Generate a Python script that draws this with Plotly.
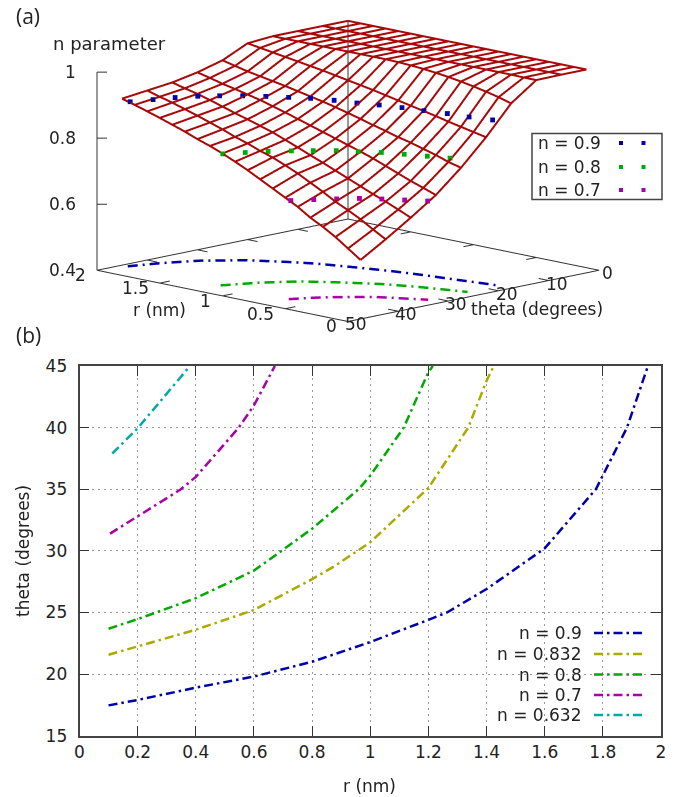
import math
import plotly.graph_objects as go

W, H = 679, 797
# ---------- panel (a) data ----------
r_grid = [0.1,0.2,0.3,0.4,0.5,0.6,0.7,0.8,0.9,1.0,1.1,1.2,1.3,1.4,1.5,1.6,1.7,1.8,1.9,2.0]
theta_grid = [0,5,10,15,20,25,30,35,40,45]
n_theta_0  = [1.0,1.0,1.0,1.0,1.0,1.0,1.0,1.0,1.0,1.0,1.0,1.0,1.0,1.0,1.0,1.0,1.0,1.0,1.0,1.0]
n_theta_5  = [1.0,1.0,1.0,1.0,1.0,1.0,1.0,1.0,1.0,1.0,1.0,1.0,1.0,1.0,1.0,1.0,1.0,1.0,1.0,1.0]
n_theta_10 = [0.999,0.999,1.0,1.0,1.0,1.0,1.0,1.0,1.0,1.0,1.0,1.0,1.0,1.0,1.0,1.0,1.0,1.0,1.0,1.0]
n_theta_15 = [0.944,0.955,0.964,0.972,0.979,0.985,0.99,0.994,0.997,0.999,1.0,1.0,1.0,1.0,1.0,1.0,1.0,1.0,1.0,1.0]
n_theta_20 = [0.857,0.865,0.873,0.881,0.89,0.898,0.906,0.914,0.922,0.93,0.937,0.944,0.951,0.958,0.964,0.97,0.976,0.982,0.988,0.994]
n_theta_25 = [0.78,0.79,0.803,0.814,0.825,0.834,0.845,0.855,0.866,0.876,0.886,0.895,0.903,0.911,0.919,0.926,0.933,0.94,0.949,0.958]
n_theta_30 = [0.713,0.727,0.74,0.755,0.77,0.785,0.798,0.81,0.822,0.834,0.846,0.858,0.87,0.881,0.892,0.901,0.91,0.918,0.928,0.937]
n_theta_35 = [0.66,0.677,0.693,0.708,0.724,0.74,0.756,0.772,0.787,0.803,0.818,0.833,0.845,0.857,0.868,0.88,0.892,0.903,0.912,0.922]
n_theta_40 = [0.61,0.632,0.655,0.675,0.693,0.715,0.735,0.755,0.772,0.788,0.80,0.815,0.827,0.842,0.855,0.868,0.88,0.892,0.902,0.913]
n_theta_45 = [0.563,0.59,0.617,0.64,0.66,0.685,0.705,0.725,0.745,0.765,0.783,0.80,0.815,0.828,0.843,0.856,0.869,0.881,0.893,0.904]
n_rows = [n_theta_0,n_theta_5,n_theta_10,n_theta_15,n_theta_20,n_theta_25,n_theta_30,n_theta_35,n_theta_40,n_theta_45]

dots09_r = [1.936,1.885,1.838,1.773,1.695,1.604,1.499,1.389,1.282,1.151,1.007,0.880,0.738,0.592,0.441,0.287,0.136]
dots09_t = [45.0,41.7,38.5,35.6,33.2,30.9,28.9,27.1,25.4,24.0,23.05,21.8,20.8,20.07,19.2,18.7,17.8]
dots08_r = [1.194,1.131,1.061,0.980,0.897,0.806,0.699,0.589,0.464,0.334,0.205]
dots08_t = [45.1,42.2,39.4,36.8,34.5,32.2,30.5,28.65,27.2,25.85,24.55]
dots07_r = [0.656,0.585,0.507,0.425,0.323,0.213,0.102]
dots07_t = [45.0,42.2,39.6,37.1,35.2,33.4,31.6]

# ---------- panel (b) data ----------
c09_r = [0.1,0.2,0.4,0.6,0.8,1.0,1.2,1.264,1.4,1.6,1.776,1.883,1.955]
c09_t = [17.46,17.9,18.9,19.8,21.0,22.6,24.4,25.0,26.9,30.2,35,40,45]
c0832_r = [0.1,0.2,0.4,0.6,0.8,0.88,1.0,1.2,1.337,1.4,1.425]
c0832_t = [21.57,22.24,23.6,25.2,27.7,28.8,30.7,35.1,40,43.8,45]
c08_r = [0.1,0.2,0.4,0.6,0.695,0.8,0.96,1.0,1.115,1.2,1.215]
c08_t = [23.68,24.46,26.16,28.4,30,31.8,35,36.1,40,44.5,45]
c07_r = [0.105,0.2,0.346,0.4,0.46,0.546,0.6,0.672]
c07_t = [31.4,32.8,34.95,36.0,37.6,39.95,41.8,45]
c0632_r = [0.113,0.2,0.38]
c0632_t = [37.9,39.95,45]

# ticks
r_ticks = [0,0.5,1,1.5,2]
r_labels = ["0","0.5","1","1.5","2"]
theta_ticks = [0,10,20,30,40,50]
theta_labels = ["0","10","20","30","40","50"]
n_ticks = [0.4,0.6,0.8,1.0]
n_labels = ["0.4","0.6","0.8","1"]

BLUE, OLIVE, GREEN, MAG, CYAN = "#0000aa", "#aaaa00", "#00aa00", "#aa00aa", "#00aaaa"
RED = "#a80808"
AX = "#333333"
FONT = "DejaVu Sans"
FS = 17
DASH = "9px,4px,2.5px,4px"

def px(x): return x / W
def py(y): return 1 - y / H

fig = go.Figure()

def line3(x, y, z, color=AX, width=1.5, dash=None):
    ln = dict(color=color, width=width)
    if dash: ln["dash"] = dash
    fig.add_trace(go.Scatter3d(x=x, y=y, z=z, mode="lines", line=ln, showlegend=False, hoverinfo="skip",
                               connectgaps=False))

def dash_pieces(rs, ts):
    """Cut a base-plane polyline into the dash-dot pattern, measured in on-screen pixels."""
    pattern = [(10, True), (5, False), (2, True), (5, False)]
    out_r, out_t = [rs[0]], [ts[0]]
    idx, left = 0, pattern[0][0]
    for i in range(len(rs) - 1):
        r0, t0, r1, t1 = rs[i], ts[i], rs[i+1], ts[i+1]
        seg = math.hypot(125*(r1-r0) + 5.04*(t1-t0), 25.5*(r1-r0) - (t1-t0))
        done = 0.0
        while seg - done > left:
            done += left
            f = done / seg
            rr, tt = r0 + f*(r1-r0), t0 + f*(t1-t0)
            if pattern[idx][1]:
                out_r += [rr, None]; out_t += [tt, None]
            else:
                out_r.append(rr); out_t.append(tt)
            idx = (idx + 1) % len(pattern)
            left = pattern[idx][0]
        left -= seg - done
        if pattern[idx][1]:
            out_r.append(r1); out_t.append(t1)
    return out_r, out_t

# surface mesh
for t, row in zip(theta_grid, n_rows):
    line3(r_grid, [t]*len(r_grid), row, RED, 4)
for i, r in enumerate(r_grid):
    line3([r]*len(theta_grid), theta_grid, [row[i] for row in n_rows], RED, 4)

# base box
line3([2,0,0,2,2],[50,50,0,0,50],[0.4]*5, width=2)
line3([2,2],[50,50],[0.4,1.0], width=2)
line3([2,2],[0,0],[0.4,1.0], width=2)
for r in r_ticks[1:-1]:
    line3([r,r],[50,48],[0.4,0.4], width=2)
    line3([r,r],[0,2],[0.4,0.4], width=2)
for t in theta_ticks[1:-1]:
    line3([0,0.08],[t,t],[0.4,0.4], width=2)
    line3([2,1.92],[t,t],[0.4,0.4], width=2)
for z in n_ticks[1:]:
    line3([2,1.96],[50,49],[z,z], width=2)

# contours on the base plane
for cr, ct, col in [(c09_r,c09_t,BLUE),(c08_r,c08_t,GREEN),(c07_r,c07_t,MAG)]:
    pr, pt = dash_pieces(cr[::-1], ct[::-1])
    line3(pr, pt, [None if v is None else 0.4 for v in pr], col, 5)
# dotted contours on the surface
for dr, dt, lev, col in [(dots09_r,dots09_t,0.9,BLUE),(dots08_r,dots08_t,0.8,GREEN),(dots07_r,dots07_t,0.7,MAG)]:
    fig.add_trace(go.Scatter3d(x=dr, y=dt, z=[lev]*len(dr), mode="markers",
                               marker=dict(symbol="square", size=2.5, color=col, line=dict(width=0)),
                               showlegend=False, hoverinfo="skip"))

# panel (b)
for cr, ct, col, nm in [(c09_r,c09_t,BLUE,"n = 0.9"),(c0832_r,c0832_t,OLIVE,"n = 0.832"),
                        (c08_r,c08_t,GREEN,"n = 0.8"),(c07_r,c07_t,MAG,"n = 0.7"),(c0632_r,c0632_t,CYAN,"n = 0.632")]:
    fig.add_trace(go.Scatter(x=cr, y=ct, mode="lines", name=nm, xaxis="x", yaxis="y",
                             line=dict(color=col, width=2.5, dash=DASH), showlegend=False))

# 3D tick labels (anchored to the scene's own coordinates)
sc_ann = []
lab = dict(showarrow=False, font=dict(family=FONT, size=FS, color="#222"))
for r, s in zip(r_ticks, r_labels):
    sc_ann.append(dict(x=r, y=50, z=0.4, text=s, xanchor="right", yanchor="middle", xshift=-9, yshift=-5, **lab))
for t, s in zip(theta_ticks, theta_labels):
    sc_ann.append(dict(x=0, y=t, z=0.4, text=s, xanchor="center", yanchor="middle", xshift=8, yshift=-3, **lab))
for z, s in zip(n_ticks, n_labels):
    sc_ann.append(dict(x=2, y=50, z=z, text=s, xanchor="right", yanchor="middle", xshift=-19, **lab))

ann = []
def text(x, y, s, anchor="left", size=FS, family=FONT, color="#222", angle=0):
    ann.append(dict(x=px(x), y=py(y), xref="paper", yref="paper", text=s, showarrow=False, textangle=angle,
                    xanchor=anchor, yanchor="middle", font=dict(family=family, size=size, color=color)))
text(14, 16, "(a)", size=21, family="Open Sans")
text(14, 335, "(b)", size=21, family="Open Sans")
text(51, 43, "n parameter", size=18)
text(159, 310, "r (nm)", "center")
text(537, 309, "theta (degrees)", "center")
text(370, 786, "r (nm)", "center")
text(23, 551, "theta (degrees)", "center", angle=-90)

shapes = []
# legend (a)
shapes.append(dict(type="rect", xref="paper", yref="paper", x0=px(532), x1=px(662), y0=py(133.5), y1=py(199.5),
                   line=dict(color="#444", width=1.5), fillcolor="white"))
for y, s, col in [(143,"n = 0.9",BLUE),(167,"n = 0.8",GREEN),(190,"n = 0.7",MAG)]:
    text(536, y, s)
    for x in (621, 643.5):
        shapes.append(dict(type="rect", xref="paper", yref="paper", x0=px(x-2), x1=px(x+2), y0=py(y-2), y1=py(y+2),
                           line=dict(width=0), fillcolor=col))
# legend (b)
shapes.append(dict(type="rect", xref="paper", yref="paper", x0=px(491), x1=px(652), y0=py(623), y1=py(725),
                   line=dict(width=0), fillcolor="white", layer="between"))
for y, s, col in [(633,"n = 0.9",BLUE),(654,"n = 0.832",OLIVE),(674.5,"n = 0.8",GREEN),(695,"n = 0.7",MAG),(715,"n = 0.632",CYAN)]:
    text(584, y, s, "right")
    shapes.append(dict(type="line", xref="paper", yref="paper", x0=px(594), x1=px(642.5), y0=py(y), y1=py(y),
                       line=dict(color=col, width=2.5, dash=DASH)))

E = 2.0
ax3 = dict(visible=False, showspikes=False)
common = dict(automargin=False, ticks="inside", ticklen=10, tickwidth=1.3, tickcolor=AX, mirror="allticks",
              showline=True, linecolor="#444", linewidth=1.7, showgrid=True, gridcolor="#999",
              griddash="2px,4px", gridwidth=1.3, zeroline=False)
fig.update_layout(
    width=W, height=H, autosize=False,
    margin=dict(l=0, r=0, t=0, b=0),
    paper_bgcolor="white", plot_bgcolor="white",
    showlegend=False,
    font=dict(family=FONT, size=FS, color="#222"),
    annotations=ann, shapes=shapes,
    scene=dict(
        domain=dict(x=[17/W, 1], y=[1-342/H, 1]),
        xaxis=dict(range=[-0.002,2.002], **ax3),
        yaxis=dict(range=[-0.05,50.05], **ax3),
        zaxis=dict(range=[0.399,1.002], **ax3),
        aspectmode="manual", aspectratio=dict(x=2.08, y=2.08, z=1.19),
        camera=dict(projection=dict(type="orthographic"),
                    eye=dict(x=-0.692*E, y=0.692*E, z=0.204*E),
                    up=dict(x=0,y=0,z=1), center=dict(x=0,y=0,z=0)),
        annotations=sc_ann,
        bgcolor="white",
    ),
    xaxis=dict(domain=[79.5/W, 661/W], anchor="y", range=[0,2], dtick=0.2, tick0=0, **common),
    yaxis=dict(domain=[1-735.7/H, 1-366/H], anchor="x", range=[15,45], dtick=5, tick0=15, ticklabelstandoff=7, **common),
)
fig.write_html("out.html", config=dict(displayModeBar=False), post_script="document.body.style.margin='0';")
